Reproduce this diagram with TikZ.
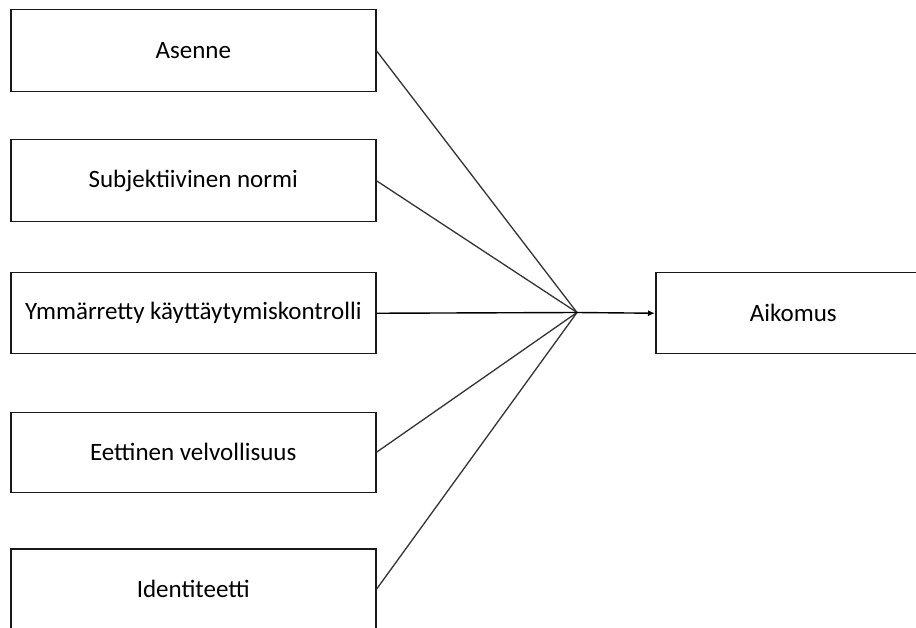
\documentclass[tikz,border=0pt]{standalone}
\usepackage{fontspec}
\setmainfont{Carlito}
\usetikzlibrary{arrows.meta}
\begin{document}
\begin{tikzpicture}[x=1pt,y=-1pt,
  factor/.style={draw=black!90,line width=1.5pt,fill=white,minimum width=365pt,
    minimum height=82pt,inner sep=0pt,font=\fontsize{25}{28}\selectfont,anchor=north west},
  target/.style={factor,minimum width=275pt},
  link/.style={draw=black!80,line width=1.3pt},
  mainlink/.style={draw=black,line width=1.4pt}]
\useasboundingbox (0,0) rectangle (916,628);
\clip (0,0) rectangle (916,628);
\node[factor] (asenne) at (10,9) {Asenne};
\node[factor] (norm) at (10,139) {Subjektiivinen normi};
\node[factor,minimum height=81pt] (kontr) at (10,272) {Ymmärretty käyttäytymiskontrolli};
\node[factor,minimum height=80pt] (etiikka) at (10,411.5) {Eettinen velvollisuus};
\node[factor,minimum height=81pt] (ident) at (10,548) {Identiteetti};
\node[target,minimum height=81pt] (aikomus) at (655,272) {Aikomus};
\coordinate (hub) at (577,312.5);
\foreach \n in {asenne,norm,etiikka,ident}
  \draw[link] (\n.east) -- (hub);
\draw[mainlink] (kontr.east) -- (hub);
\draw[mainlink,-{Latex[length=7pt,width=6pt]}] (hub) -- (aikomus.west);
\end{tikzpicture}
\end{document}
